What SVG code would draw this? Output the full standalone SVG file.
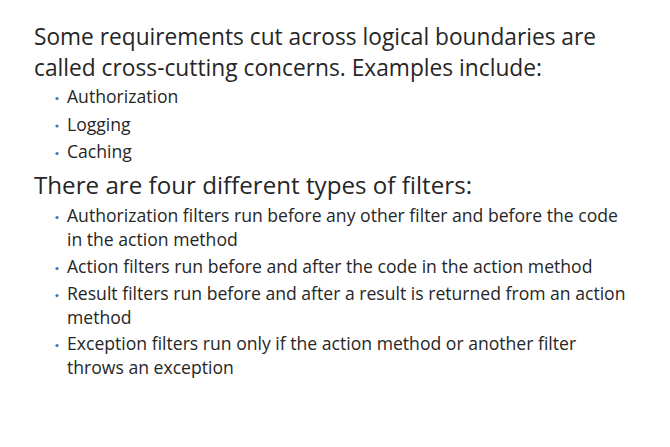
<svg xmlns="http://www.w3.org/2000/svg" width="670" height="447" viewBox="0 0 670 447">
<style>
.h{font-family:"Open Sans","Noto Sans",sans-serif;font-size:23px;fill:#262626}
.b{font-family:"Open Sans","Noto Sans",sans-serif;font-size:17.6px;fill:#262626}
.d{fill:#2f7bbf}
</style>
<rect width="670" height="447" fill="#ffffff"/>
<g id="intro">
<text class="h"><tspan x="34" y="45" textLength="562" lengthAdjust="spacingAndGlyphs">Some requirements cut across logical boundaries are</tspan><tspan x="34" y="76" textLength="508" lengthAdjust="spacingAndGlyphs">called cross-cutting concerns. Examples include:</tspan></text>
</g>
<g id="concerns">
<circle class="d" cx="57" cy="98.5" r="1.6"/>
<text class="b" x="67" y="103">Authorization</text>
<circle class="d" cx="57" cy="126" r="1.6"/>
<text class="b" x="67" y="130.5">Logging</text>
<circle class="d" cx="57" cy="153.5" r="1.6"/>
<text class="b" x="67" y="158">Caching</text>
</g>
<g id="filters-heading">
<text class="h" x="34" y="193.5" textLength="438" lengthAdjust="spacingAndGlyphs">There are four different types of filters:</text>
</g>
<g id="filters">
<circle class="d" cx="57" cy="217.5" r="1.6"/>
<text class="b"><tspan x="67" y="222">Authorization filters run before any other filter and before the code</tspan><tspan x="67" y="246">in the action method</tspan></text>
<circle class="d" cx="57" cy="268.5" r="1.6"/>
<text class="b" x="67" y="273">Action filters run before and after the code in the action method</text>
<circle class="d" cx="57" cy="295.5" r="1.6"/>
<text class="b"><tspan x="67" y="300">Result filters run before and after a result is returned from an action</tspan><tspan x="67" y="324">method</tspan></text>
<circle class="d" cx="57" cy="345.5" r="1.6"/>
<text class="b"><tspan x="67" y="350">Exception filters run only if the action method or another filter</tspan><tspan x="67" y="374">throws an exception</tspan></text>
</g>
</svg>
